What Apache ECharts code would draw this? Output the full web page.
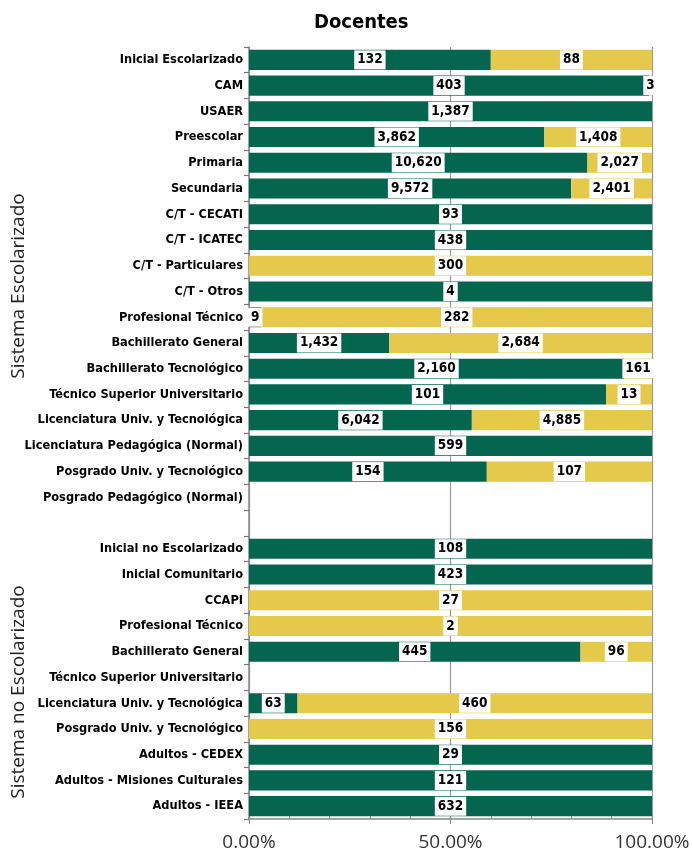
<!DOCTYPE html>
<html>
<head>
<meta charset="utf-8">
<title>Docentes</title>
<script src="https://cdn.jsdelivr.net/npm/echarts@6/dist/echarts.min.js"></script>
<style>
  html, body { margin: 0; padding: 0; background: #fff; }
  #main { width: 693px; height: 856px; }
</style>
</head>
<body>
<div id="main"></div>
<script>
// categorias (la fila vacia separa los dos sistemas)
var categories = [
  'Inicial Escolarizado', 'CAM', 'USAER', 'Preescolar', 'Primaria', 'Secundaria',
  'C/T - CECATI', 'C/T - ICATEC', 'C/T - Particulares', 'C/T - Otros',
  'Profesional Técnico', 'Bachillerato General', 'Bachillerato Tecnológico',
  'Técnico Superior Universitario', 'Licenciatura Univ. y Tecnológica',
  'Licenciatura Pedagógica (Normal)', 'Posgrado Univ. y Tecnológico',
  'Posgrado Pedagógico (Normal)',
  '',
  'Inicial no Escolarizado', 'Inicial Comunitario', 'CCAPI', 'Profesional Técnico',
  'Bachillerato General', 'Técnico Superior Universitario',
  'Licenciatura Univ. y Tecnológica', 'Posgrado Univ. y Tecnológico',
  'Adultos - CEDEX', 'Adultos - Misiones Culturales', 'Adultos - IEEA'
];
// verde
var greenValues = [
  132, 403, 1387, 3862, 10620, 9572,
  93, 438, null, 4,
  9, 1432, 2160,
  101, 6042,
  599, 154,
  null,
  null,
  108, 423, null, null,
  445, null,
  63, null,
  29, 121, 632
];
// amarillo
var yellowValues = [
  88, 3, null, 1408, 2027, 2401,
  null, null, 300, null,
  282, 2684, 161,
  13, 4885,
  null, 107,
  null,
  null,
  null, null, 27, 2,
  96, null,
  460, 156,
  null, null, null
];
var groupLabels = ['Sistema Escolarizado', 'Sistema no Escolarizado'];

var GREEN = '#04664f';
var YELLOW = '#e5c94a';
var FONT = '"Liberation Sans Narrow", "DejaVu Sans Condensed", sans-serif';

// porcentaje de cada fila
function shares(arr) {
  return arr.map(function (v, i) {
    if (v == null) return null;
    var total = (greenValues[i] || 0) + (yellowValues[i] || 0);
    return v / total;
  });
}

function fmt(arr) {
  return function (p) {
    return arr[p.dataIndex].toLocaleString('en-US');
  };
}

var labelStyle = {
  show: true,
  position: 'inside',
  color: '#000',
  backgroundColor: '#fff',
  fontFamily: FONT,
  fontWeight: 'bold',
  fontSize: 13.5,
  padding: [3, 3, 2, 3]
};

var chart = echarts.init(document.getElementById('main'));

var option = {
  animation: false,
  title: {
    text: 'Docentes',
    left: 309,
    top: 8,
    textStyle: { fontFamily: FONT, fontWeight: 'bold', fontSize: 20, color: '#000' }
  },
  grid: { left: 249, right: 41, top: 47, bottom: 37, containLabel: false },
  xAxis: [{
    type: 'value',
    min: 0,
    max: 1,
    interval: 0.1,
    axisLine: { show: true, lineStyle: { color: '#888', width: 1.5 } },
    axisTick: { show: true, inside: true, length: 4, lineStyle: { color: '#888' } },
    splitLine: { show: false },
    axisLabel: {
      interval: 4,
      formatter: function (v) {
        var r = Math.round(v * 10) / 10;
        if (r === 0 || r === 0.5 || r === 1) return (r * 100).toFixed(2) + '%';
        return '';
      },
      color: '#333',
      fontFamily: '"Open Sans", sans-serif',
      fontSize: 19,
      margin: 14
    }
  }, {
    type: 'value',
    position: 'bottom',
    min: 0,
    max: 1,
    interval: 0.5,
    axisLine: { show: false },
    axisTick: { show: true, length: 5, lineStyle: { color: '#888' } },
    axisLabel: { show: false },
    splitLine: { show: true, lineStyle: { color: '#999', width: 1.2 } }
  }],
  yAxis: {
    type: 'category',
    inverse: true,
    data: categories,
    axisLine: { show: true, lineStyle: { color: '#888', width: 1.5 } },
    axisTick: { show: true, interval: 0, length: 5, lineStyle: { color: '#777', width: 1.2 } },
    axisLabel: {
      interval: 0,
      color: '#000',
      fontFamily: FONT,
      fontWeight: 'bold',
      fontSize: 12.7,
      margin: 6
    }
  },
  series: [{
    name: 'Verde',
    type: 'bar',
    stack: 'total',
    barCategoryGap: '22%',
    data: shares(greenValues),
    itemStyle: { color: GREEN },
    label: Object.assign({}, labelStyle, { formatter: fmt(greenValues) })
  }, {
    name: 'Amarillo',
    type: 'bar',
    stack: 'total',
    barCategoryGap: '22%',
    data: shares(yellowValues),
    itemStyle: { color: YELLOW },
    label: Object.assign({}, labelStyle, { formatter: fmt(yellowValues) })
  }],
  graphic: [{
    type: 'text',
    x: 19,
    y: 286,
    rotation: Math.PI / 2,
    style: {
      text: groupLabels[0],
      fill: '#222',
      font: '19px "Open Sans", sans-serif',
      textAlign: 'center',
      textVerticalAlign: 'middle'
    }
  }, {
    type: 'text',
    x: 19,
    y: 692,
    rotation: Math.PI / 2,
    style: {
      text: groupLabels[1],
      fill: '#222',
      font: '19px "Open Sans", sans-serif',
      textAlign: 'center',
      textVerticalAlign: 'middle'
    }
  }]
};

chart.setOption(option);
</script>
</body>
</html>
